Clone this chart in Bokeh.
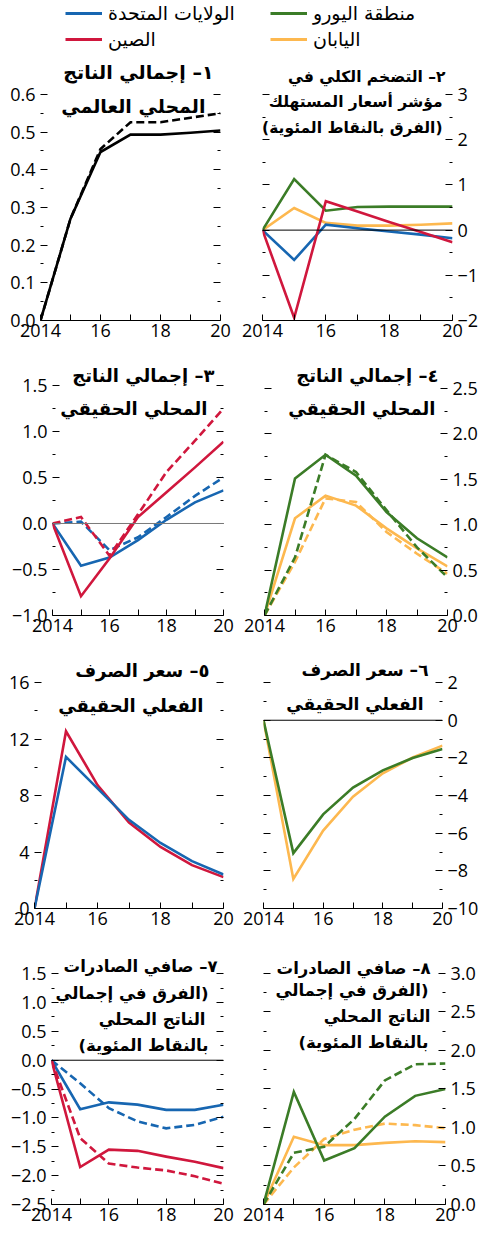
from bokeh.plotting import figure
from bokeh.models import Range1d, FixedTicker, LinearAxis, Span, Label, Legend, LegendItem
from bokeh.layouts import column, row
from bokeh.embed import file_html
from bokeh.resources import INLINE
from bokeh.core.properties import value

# ---------------------------------------------------------------- data
years = [2014, 2015, 2016, 2017, 2018, 2019, 2020]
x_tick_labels = ["2014", "", "16", "", "18", "", "20"]

# 1. world GDP
world_gdp = [0.0, 0.27, 0.447, 0.493, 0.493, 0.498, 0.504]
world_gdp_alt = [0.0, 0.27, 0.455, 0.526, 0.526, 0.538, 0.55]

# 2. headline CPI inflation (percentage point difference)
cpi_us = [0.0, -0.66, 0.12, 0.04, -0.03, -0.10, -0.18]
cpi_china = [0.0, -1.94, 0.64, 0.41, 0.18, -0.04, -0.27]
cpi_euro = [0.0, 1.13, 0.43, 0.51, 0.52, 0.52, 0.52]
cpi_japan = [0.0, 0.49, 0.16, 0.10, 0.10, 0.12, 0.15]

# 3. real GDP, United States and China
gdp_us = [0.0, -0.46, -0.37, -0.18, 0.04, 0.23, 0.36]
gdp_us_alt = [0.0, 0.02, -0.29, -0.15, 0.07, 0.30, 0.50]
gdp_china = [0.0, -0.79, -0.38, 0.07, 0.34, 0.61, 0.89]
gdp_china_alt = [0.0, 0.07, -0.35, 0.10, 0.56, 0.90, 1.25]

# 4. real GDP, euro area and Japan
gdp_euro = [0.0, 1.51, 1.77, 1.54, 1.14, 0.85, 0.64]
gdp_euro_alt = [0.0, 0.64, 1.77, 1.58, 1.16, 0.75, 0.42]
gdp_japan = [0.0, 1.07, 1.32, 1.21, 0.96, 0.74, 0.54]
gdp_japan_alt = [0.0, 0.59, 1.29, 1.25, 0.92, 0.68, 0.46]

# 5. real effective exchange rate, United States and China
reer_us = [0.0, 10.73, 8.5, 6.28, 4.64, 3.35, 2.41]
reer_china = [0.0, 12.55, 8.74, 6.09, 4.36, 3.07, 2.22]

# 6. real effective exchange rate, euro area and Japan
reer_euro = [0.0, -7.06, -5.0, -3.58, -2.66, -2.01, -1.53]
reer_japan = [0.0, -8.43, -5.86, -4.06, -2.82, -1.98, -1.35]

# 7. net exports (difference in GDP, percentage points), United States and China
nx_us = [0.0, -0.85, -0.73, -0.77, -0.86, -0.86, -0.77]
nx_us_alt = [0.0, -0.40, -0.83, -1.06, -1.18, -1.12, -0.98]
nx_china = [0.0, -1.85, -1.55, -1.57, -1.67, -1.76, -1.87]
nx_china_alt = [0.0, -1.35, -1.79, -1.86, -1.91, -2.01, -2.14]

# 8. net exports, euro area and Japan
nx_euro = [0.0, 1.46, 0.57, 0.73, 1.14, 1.41, 1.50]
nx_euro_alt = [0.0, 0.67, 0.75, 1.11, 1.61, 1.82, 1.83]
nx_japan = [0.0, 0.88, 0.77, 0.77, 0.80, 0.82, 0.81]
nx_japan_alt = [0.0, 0.48, 0.85, 0.97, 1.05, 1.03, 0.99]

# y-axis ticks and their labels for each panel
y1_ticks = [0.0, 0.1, 0.2, 0.3, 0.4, 0.5, 0.6]
y1_labels = ["0.0", "0.1", "0.2", "0.3", "0.4", "0.5", "0.6"]
y2_ticks = [-2, -1, 0, 1, 2, 3]
y2_labels = ["\u22122", "\u22121", "0", "1", "2", "3"]
y3_ticks = [-1.0, -0.5, 0.0, 0.5, 1.0, 1.5]
y3_labels = ["\u22121.0", "\u22120.5", "0.0", "0.5", "1.0", "1.5"]
y4_ticks = [0.0, 0.5, 1.0, 1.5, 2.0, 2.5]
y4_labels = ["0.0", "0.5", "1.0", "1.5", "2.0", "2.5"]
y5_ticks = [0, 4, 8, 12, 16]
y5_labels = ["0", "4", "8", "12", "16"]
y6_ticks = [-10, -8, -6, -4, -2, 0, 2]
y6_labels = ["\u221210", "\u22128", "\u22126", "\u22124", "\u22122", "0", "2"]
y7_ticks = [-2.5, -2.0, -1.5, -1.0, -0.5, 0.0, 0.5, 1.0, 1.5]
y7_labels = ["\u22122.5", "\u22122.0", "\u22121.5", "\u22121.0", "\u22120.5", "0.0", "0.5", "1.0", "1.5"]
y8_ticks = [0.0, 0.5, 1.0, 1.5, 2.0, 2.5, 3.0]
y8_labels = ["0.0", "0.5", "1.0", "1.5", "2.0", "2.5", "3.0"]

legend_us = "الولايات المتحدة"
legend_china = "الصين"
legend_euro = "منطقة اليورو"
legend_japan = "اليابان"

# ---------------------------------------------------------------- style
BLUE = "#1766b1"
RED = "#d0173d"
GREEN = "#3b7c27"
YELLOW = "#fdb84f"
NUM_FONT = "Open Sans"
AR_FONT = "DejaVu Sans"
NUM_SIZE = "18px"
LW = 2.6
DASH = "8 4"
RLM = "\u200f"  # keeps parentheses on the right-to-left side of a wrapped line


def midpoints(t):
    return [(a + b) / 2 for a, b in zip(t[:-1], t[1:])]


def y_axis(ticks, labels, show_labels):
    overrides = dict(zip(ticks, labels if show_labels else [""] * len(ticks)))
    return LinearAxis(
        ticker=FixedTicker(ticks=ticks, minor_ticks=midpoints(ticks)),
        major_label_overrides=overrides,
        axis_line_color=None,
        major_tick_in=7, major_tick_out=0,
        minor_tick_in=3, minor_tick_out=0,
        major_tick_line_color="black", minor_tick_line_color="black",
        major_label_standoff=5,
        major_label_text_font=NUM_FONT,
        major_label_text_font_size=NUM_SIZE,
        major_label_text_color="black",
    )


def panel(width, height, borders, y_range, ticks, labels, label_side, titles,
          title_size="18px", zero_line=None):
    left, right, top, bottom = borders
    p = figure(width=width, height=height, title=None,
               x_range=Range1d(2014, 2020), y_range=Range1d(*y_range),
               x_axis_type=None, y_axis_type=None,
               output_backend="svg", toolbar_location=None,
               min_border_left=left, min_border_right=right,
               min_border_top=top, min_border_bottom=bottom)
    p.outline_line_color = None
    p.background_fill_color = "white"
    p.border_fill_color = "white"

    xaxis = LinearAxis(
        ticker=FixedTicker(ticks=years, minor_ticks=[]),
        major_label_overrides=dict(zip(years, x_tick_labels)),
        axis_line_color="black", axis_line_width=1,
        major_tick_in=6, major_tick_out=0,
        major_tick_line_color="black",
        major_label_standoff=3,
        major_label_text_font=NUM_FONT,
        major_label_text_font_size=NUM_SIZE,
        major_label_text_color="black",
    )
    p.add_layout(xaxis, "below")
    p.add_layout(y_axis(ticks, labels, label_side == "left"), "left")
    p.add_layout(y_axis(ticks, labels, label_side == "right"), "right")

    if zero_line:
        p.add_layout(Span(location=0, dimension="width", line_color=zero_line, line_width=1))

    for text, x, y in titles:
        p.add_layout(Label(x=x, y=y, x_units="screen", y_units="screen", text=text,
                           text_align="right", text_baseline="middle",
                           text_font=AR_FONT, text_font_style="bold",
                           text_font_size=title_size, text_color="black"))
    return p


def series(p, ys, color, dashed=False):
    p.line(years, ys, line_color=color, line_width=LW,
           line_dash=DASH if dashed else "solid", line_join="miter")


# ---------------------------------------------------------------- legend strip
leg = figure(width=481, height=52, title=None, x_range=Range1d(0, 1), y_range=Range1d(0, 1),
             x_axis_type=None, y_axis_type=None, output_backend="svg",
             toolbar_location=None, min_border=0)
leg.outline_line_color = None
# hidden proxies carrying each country's style for the key
r_us = leg.line(years, cpi_us, line_color=BLUE, line_width=3, visible=False)
r_cn = leg.line(years, cpi_china, line_color=RED, line_width=3, visible=False)
r_ea = leg.line(years, cpi_euro, line_color=GREEN, line_width=3, visible=False)
r_jp = leg.line(years, cpi_japan, line_color=YELLOW, line_width=3, visible=False)


def legend_block(items, loc):
    return Legend(items=[LegendItem(label=value(t), renderers=[r]) for t, r in items],
                  location=loc, orientation="vertical", click_policy="none",
                  glyph_width=37, glyph_height=22, label_height=22, spacing=4,
                  label_standoff=6, padding=0, margin=0,
                  border_line_color=None, background_fill_alpha=0,
                  inactive_fill_alpha=0,
                  label_text_font=AR_FONT, label_text_font_size="19px",
                  label_text_color="black")


leg.add_layout(legend_block([(legend_us, r_us), (legend_china, r_cn)], (65, 2)))
leg.add_layout(legend_block([(legend_euro, r_ea), (legend_japan, r_jp)], (270, 2)))

# ---------------------------------------------------------------- panels
p1 = panel(240, 298, (40, 20, 0, 30), (0, 0.711), y1_ticks, y1_labels, "left",
           [("١– إجمالي الناتج", 173, 249), ("المحلي العالمي", 165, 215)], title_size="19px")
series(p1, world_gdp_alt, "black", dashed=True)
series(p1, world_gdp, "black")

p2 = panel(241, 298, (22, 29, 0, 30), (-2, 3.93), y2_ticks, y2_labels, "right",
           [("٢– التضخم الكلي في", 183, 244), ("مؤشر أسعار المستهلك", 180, 219),
            ("(الفرق بالنقاط المئوية)", 180, 193)], title_size="15.5px", zero_line="black")
series(p2, cpi_japan, YELLOW)
series(p2, cpi_euro, GREEN)
series(p2, cpi_us, BLUE)
series(p2, cpi_china, RED)

p3 = panel(240, 295, (52, 17, 0, 30), (-1, 1.88), y3_ticks, y3_labels, "left",
           [("٣– إجمالي الناتج", 162, 240), ("المحلي الحقيقي", 155, 207)],
           title_size="18px", zero_line="#7a7a7a")
series(p3, gdp_us_alt, BLUE, dashed=True)
series(p3, gdp_us, BLUE)
series(p3, gdp_china, RED)
series(p3, gdp_china_alt, RED, dashed=True)

p4 = panel(241, 295, (24, 34, 0, 30), (0, 2.918), y4_ticks, y4_labels, "right",
           [("٤– إجمالي الناتج", 174, 240), ("المحلي الحقيقي", 171, 207)], title_size="18px")
series(p4, gdp_japan_alt, YELLOW, dashed=True)
series(p4, gdp_japan, YELLOW)
series(p4, gdp_euro_alt, GREEN, dashed=True)
series(p4, gdp_euro, GREEN)

p5 = panel(240, 297, (34, 17, 0, 34), (0, 18.62), y5_ticks, y5_labels, "left",
           [("٥– سعر الصرف", 175, 238), ("الفعلي الحقيقي", 169, 203)], title_size="18px")
series(p5, reer_china, RED)
series(p5, reer_us, BLUE)

p6 = panel(241, 297, (23, 37, 0, 34), (-10, 3.97), y6_ticks, y6_labels, "right",
           [("٦– سعر الصرف", 165, 239), ("الفعلي الحقيقي", 160, 205)],
           title_size="17px", zero_line="black")
series(p6, reer_japan, YELLOW)
series(p6, reer_euro, GREEN)

p7 = panel(240, 291, (51, 17, 0, 29), (-2.5, 2.04), y7_ticks, y7_labels, "left",
           [("٧– صافي الصادرات", 166, 238), (RLM + "(الفرق في إجمالي" + RLM, 157, 211),
            ("الناتج المحلي", 154, 185), (RLM + "بالنقاط المئوية)" + RLM, 157, 159)],
           title_size="16.5px", zero_line="black")
series(p7, nx_us, BLUE)
series(p7, nx_us_alt, BLUE, dashed=True)
series(p7, nx_china, RED)
series(p7, nx_china_alt, RED, dashed=True)

p8 = panel(241, 291, (23, 36, 0, 29), (0, 3.40), y8_ticks, y8_labels, "right",
           [("٨– صافي الصادرات", 167, 236), (RLM + "(الفرق في إجمالي" + RLM, 165, 214),
            ("الناتج المحلي", 167, 188), (RLM + "بالنقاط المئوية)" + RLM, 165, 162)],
           title_size="16.5px")
series(p8, nx_japan_alt, YELLOW, dashed=True)
series(p8, nx_japan, YELLOW)
series(p8, nx_euro_alt, GREEN, dashed=True)
series(p8, nx_euro, GREEN)

layout = column(leg, row(p1, p2), row(p3, p4), row(p5, p6), row(p7, p8))

open("out.html", "w").write(file_html(layout, INLINE))
